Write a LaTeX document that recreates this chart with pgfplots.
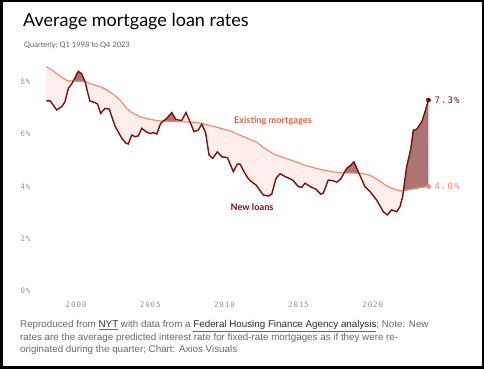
\documentclass[border=0pt]{standalone}
\usepackage{fontspec}
\setmainfont{Liberation Sans}
\newfontfamily\titlefont{Lato}
\newfontfamily\monofont[LetterSpace=12]{DejaVu Sans Mono}
\usepackage{pgfplots}
\pgfplotsset{compat=1.18}
\usepgfplotslibrary{fillbetween}
\definecolor{exline}{RGB}{242,140,115}
\definecolor{nwline}{RGB}{120,16,16}
\definecolor{pinkfill}{RGB}{253,238,236}
\definecolor{darkfill}{RGB}{172,116,115}
\definecolor{exlabel}{RGB}{218,104,72}
\definecolor{gridc}{RGB}{228,228,228}
\definecolor{tickc}{RGB}{150,150,150}
\definecolor{foot}{RGB}{105,105,105}
\definecolor{footdark}{RGB}{45,45,45}
\begin{document}
\pgfplotstableread{
x y
1998.0 8.57
1998.5 8.40
1999.0 8.18
1999.4 8.04
2000.0 8.02
2000.7 7.99
2001.2 7.88
2001.6 7.82
2002.1 7.68
2002.5 7.52
2003.0 7.28
2003.3 7.05
2003.7 6.84
2004.3 6.66
2005.0 6.56
2005.5 6.51
2006.0 6.49
2006.5 6.48
2007.0 6.47
2007.5 6.46
2008.0 6.45
2008.5 6.40
2009.0 6.33
2009.5 6.26
2010.0 6.18
2010.5 6.10
2011.0 5.97
2011.5 5.85
2012.2 5.68
2012.7 5.45
2013.3 5.24
2014.0 5.10
2014.5 5.00
2015.0 4.90
2015.5 4.79
2016.0 4.72
2016.6 4.63
2017.2 4.57
2017.8 4.52
2018.5 4.51
2019.2 4.50
2019.6 4.46
2020.0 4.37
2020.5 4.20
2020.9 4.02
2021.3 3.92
2021.8 3.83
2022.15 3.84
2022.5 3.88
2023.0 3.93
2023.75 4.00
}\existing
\pgfplotstableread{
x y
1998.0 7.27
1998.25 7.27
1998.7 6.92
1999.04 7.05
1999.26 7.24
1999.48 7.75
1999.71 7.92
1999.9 8.12
2000.15 8.40
2000.38 8.30
2000.62 7.98
2000.8 7.55
2000.94 7.26
2001.28 7.20
2001.45 7.15
2001.66 6.79
2001.95 6.98
2002.24 6.95
2002.63 6.30
2003.08 5.84
2003.37 5.65
2003.52 5.62
2003.75 5.96
2003.98 5.90
2004.2 5.93
2004.43 6.22
2004.76 6.07
2005.05 6.02
2005.2 6.06
2005.44 6.00
2005.7 6.41
2006.11 6.60
2006.45 6.82
2006.74 6.55
2007.12 6.52
2007.41 6.82
2007.68 6.47
2007.95 6.09
2008.24 6.15
2008.47 6.38
2008.74 6.03
2008.96 5.20
2009.21 5.07
2009.52 5.32
2009.82 5.13
2010.2 5.10
2010.6 4.56
2010.87 4.85
2011.05 4.85
2011.32 4.56
2011.54 4.35
2011.73 4.22
2012.13 4.05
2012.62 3.67
2012.96 3.63
2013.19 3.70
2013.48 4.31
2013.75 4.48
2014.08 4.38
2014.6 4.24
2014.98 3.99
2015.21 3.96
2015.43 4.12
2015.88 3.96
2016.17 3.89
2016.49 3.70
2016.66 3.74
2017.0 4.24
2017.3 4.22
2017.57 4.16
2017.84 4.28
2018.24 4.69
2018.46 4.78
2018.73 4.94
2019.02 4.56
2019.47 3.99
2019.81 3.80
2020.26 3.48
2020.71 3.03
2020.98 2.91
2021.27 3.10
2021.61 3.03
2021.83 3.22
2022.01 3.60
2022.28 4.75
2022.55 5.40
2022.73 6.15
2022.96 6.18
2023.3 6.47
2023.52 6.85
2023.75 7.30
}\newloans
\begin{tikzpicture}
\fill[white] (0pt,0pt) rectangle (484pt,369pt);
\draw[line width=2.5pt] (1.25pt,1.25pt) rectangle (482.75pt,367.75pt);
\node[anchor=base west, inner sep=0] at (23pt,342pt) {\titlefont\fontsize{18}{20}\selectfont Average mortgage loan rates};
\node[anchor=base west, inner sep=0, text=gray!75!black] at (24pt,321pt) {\titlefont\fontsize{7.5}{9}\selectfont Quarterly; Q1 1998 to Q4 2023};
\begin{axis}[
 at={(40pt,78pt)}, anchor=south west, scale only axis,
 width=395.7pt, height=230.2pt,
 xmin=1997.57, xmax=2024.24, ymin=0, ymax=8.8,
 clip=false,
 axis x line*=bottom, axis y line*=left, axis line style={draw=none},
 xtick={2000,2005,2010,2015,2020}, xticklabels={2000,2005,2010,2015,2020},
 ytick={0,2,4,6,8}, yticklabels={0\%,2\%,4\%,6\%,8\%},
 ymajorgrids, grid style={gridc, line width=0.6pt},
 tick align=outside, major tick length=6pt,
 x tick style={gridc, line width=0.6pt},
 y tick style={draw=none},
 tick label style={font=\monofont\fontsize{7.5}{8}\selectfont, text=tickc},
 xticklabel style={yshift=-1pt},
]
\addplot[name path=ex, draw=none, forget plot] table[x=x,y=y] {\existing};
\addplot[name path=nw, draw=none, forget plot] table[x=x,y=y] {\newloans};
\addplot[fill=pinkfill, draw=none] fill between[of=nw and ex, on layer=main];
\addplot[fill=darkfill, draw=none] fill between[of=nw and ex, on layer=main, soft clip={domain=1999.82:2000.60}];
\addplot[fill=darkfill, draw=none] fill between[of=nw and ex, on layer=main, soft clip={domain=2005.88:2006.75}];
\addplot[fill=darkfill, draw=none] fill between[of=nw and ex, on layer=main, soft clip={domain=2018.08:2019.07}];
\addplot[fill=darkfill, draw=none] fill between[of=nw and ex, on layer=main, soft clip={domain=2022.07:2023.75}];
\addplot[draw=exline, line width=1.2pt] table[x=x,y=y] {\existing};
\addplot[draw=nwline, line width=1.4pt] table[x=x,y=y] {\newloans};
\addplot[only marks, mark=*, mark size=2.2pt, exline] coordinates {(2023.75,4.0)};
\addplot[only marks, mark=*, mark size=2.2pt, nwline] coordinates {(2023.75,7.3)};
\node[anchor=west, inner sep=0, xshift=6pt, text=nwline, font=\monofont\fontsize{9}{10}\selectfont] at (axis cs:2023.75,7.3) {7.3\%};
\node[anchor=west, inner sep=0, xshift=6pt, text=exline, font=\monofont\fontsize{9}{10}\selectfont] at (axis cs:2023.75,4.0) {4.0\%};
\node[text=exlabel, font=\titlefont\bfseries\fontsize{9.2}{10}\selectfont] at (axis cs:2013.27,6.50) {Existing mortgages};
\node[text=nwline, font=\titlefont\bfseries\fontsize{9.2}{10}\selectfont] at (axis cs:2011.86,3.21) {New loans};
\end{axis}
\node[anchor=base west, inner sep=0, text=foot, font=\fontsize{9.8}{12}\selectfont] at (20pt,41.5pt) {Reproduced from \underline{\textcolor{footdark}{NYT}} with data from a \underline{\textcolor{footdark}{Federal Housing Finance Agency analysis}}; Note: New};
\node[anchor=base west, inner sep=0, text=foot, font=\fontsize{9.8}{12}\selectfont] at (20pt,28.8pt) {rates are the average predicted interest rate for fixed-rate mortgages as if they were re-};
\node[anchor=base west, inner sep=0, text=foot, font=\fontsize{9.8}{12}\selectfont] at (20pt,16.1pt) {originated during the quarter; Chart: Axios Visuals};
\end{tikzpicture}
\end{document}
